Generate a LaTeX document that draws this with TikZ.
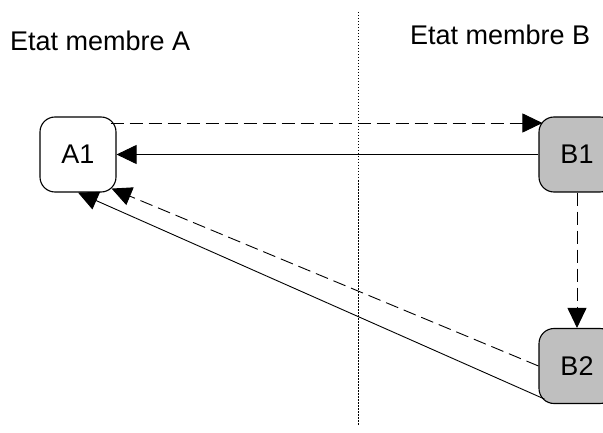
\documentclass[tikz,border=0pt]{standalone}
\usepackage{fontspec}
\setmainfont{Liberation Sans}
\usetikzlibrary{arrows.meta}

\begin{document}
\begin{tikzpicture}[x=1pt,y=-1pt,
		every node/.style={
			font=\fontsize{27}{32}\selectfont
		},
		etat/.style={
			rectangle,
			draw,
			line width=1.1pt,
			rounded corners=15pt,
			minimum height=75pt,
			minimum width=76pt,
			inner sep=0pt
		},
		membreb/.style={
			etat,
			fill=black!25
		},
		flux/.style={
			-{Triangle[length=20pt,width=19pt]},
			line width=0.9pt
		},
		fluxdash/.style={
			flux,
			dash pattern=on 13pt off 6pt
		}]

		\useasboundingbox (0,0) rectangle (603,433);
		\clip (0,0) rectangle (603,433);

		%separation
		\coordinate (haut) at (358,12);
		\coordinate (bas) at (358,426);
		\draw[line width=1pt, dash pattern=on 1.5pt off 1.5pt] (haut) -- (bas);

		%labels
		\node[anchor=base west, inner sep=0pt] at (10,51) (etatA) {Etat membre A};
		\node[anchor=base west, inner sep=0pt] at (410,45) (etatB) {Etat membre B};

		\node[etat] at (78,154.5) (a1) {A1};
		\node[membreb] at (577,154.5) (b1) {B1};
		\node[membreb] at (577,366) (b2) {B2};

		\draw[fluxdash] ([xshift=-6pt,yshift=31.5pt]a1.east) -- ([xshift=4pt,yshift=31.5pt]b1.west);
		\draw[flux] (b1.west) -- (a1.east);
		\draw[fluxdash] (b1.south) -- (b2.north);
		\draw[fluxdash] (b2.west) -- ([xshift=-5pt,yshift=4pt]a1.south east);
		\draw[flux] ([xshift=6pt,yshift=5pt]b2.south west) -- (a1.south);

	\end{tikzpicture}
\end{document}
